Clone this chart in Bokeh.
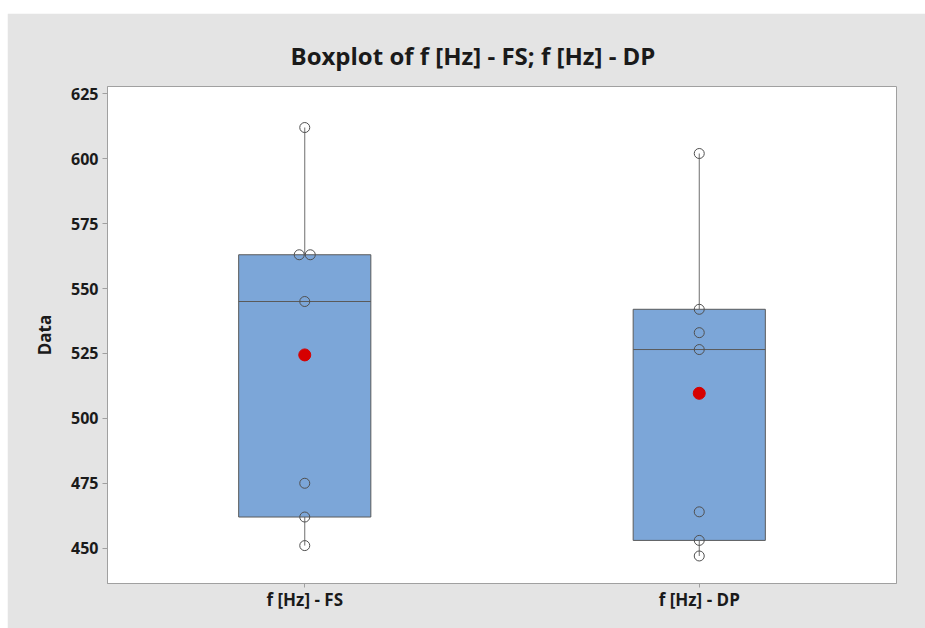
import math
from bokeh.plotting import figure
from bokeh.models import FixedTicker, Range1d, Spacer, ColumnDataSource
from bokeh.layouts import column, row
from bokeh.embed import file_html
from bokeh.resources import INLINE

# ---- data ----
categories = ["f [Hz] - FS", "f [Hz] - DP"]
fs_values = [451, 462, 475, 545, 563, 563, 612]
dp_values = [447, 453, 464, 526.5, 533, 542, 602]
y_ticks = [450, 475, 500, 525, 550, 575, 600, 625]
title_text = "Boxplot of f [Hz] - FS; f [Hz] - DP"
y_label = "Data"

series = [fs_values, dp_values]


def mtb_quantile(vals, p):
    s = sorted(vals)
    n = len(s)
    pos = p * (n + 1)
    lo = int(math.floor(pos))
    frac = pos - lo
    if lo < 1:
        return s[0]
    if lo >= n:
        return s[-1]
    return s[lo - 1] + frac * (s[lo] - s[lo - 1])


centers = [i + 0.5 for i in range(len(categories))]
box_half = 0.1675
dup_step = 0.014

box = dict(left=[], right=[], q1=[], q3=[], med=[], lo=[], hi=[], x=[], mean=[])
pts_x, pts_y = [], []
for c, vals in zip(centers, series):
    q1 = mtb_quantile(vals, 0.25)
    q2 = mtb_quantile(vals, 0.5)
    q3 = mtb_quantile(vals, 0.75)
    iqr = q3 - q1
    lo = min(v for v in vals if v >= q1 - 1.5 * iqr)
    hi = max(v for v in vals if v <= q3 + 1.5 * iqr)
    box["left"].append(c - box_half)
    box["right"].append(c + box_half)
    box["q1"].append(q1)
    box["q3"].append(q3)
    box["med"].append(q2)
    box["lo"].append(lo)
    box["hi"].append(hi)
    box["x"].append(c)
    box["mean"].append(sum(vals) / len(vals))
    # individual points, duplicates side by side
    counts = {}
    for v in vals:
        counts[v] = counts.get(v, 0) + 1
    seen = {}
    for v in vals:
        k = counts[v]
        j = seen.get(v, 0)
        seen[v] = j + 1
        off = (j - (k - 1) / 2) * 2 * dup_step if k > 1 else 0
        pts_x.append(c + off)
        pts_y.append(v)

src = ColumnDataSource(box)

p = figure(
    width=918, height=615,
    x_range=Range1d(0, 2), y_range=Range1d(436.4, 627.8),
    output_backend="svg", toolbar_location=None,
    min_border_left=100, min_border_right=29, min_border_top=73, min_border_bottom=45,
    background_fill_color="white", border_fill_color="#E4E4E4",
    outline_line_color="#A0A0A0",
    title=title_text,
)
p.title.text_font = "Open Sans"
p.title.text_font_style = "bold"
p.title.text_font_size = "24px"
p.title.text_color = "#1A1A1A"
p.title.align = "left"
p.title.offset = 183
p.title.standoff = 29

p.xgrid.visible = False
p.ygrid.visible = False

# whiskers
p.segment(x0="x", x1="x", y0="q3", y1="hi", source=src, line_color="#6E6E6E", line_width=1)
p.segment(x0="x", x1="x", y0="lo", y1="q1", source=src, line_color="#6E6E6E", line_width=1)
# boxes
p.quad(left="left", right="right", bottom="q1", top="q3", source=src,
       fill_color="#7CA6D8", line_color="#5A5A5A", line_width=1)
# medians
p.segment(x0="left", x1="right", y0="med", y1="med", source=src, line_color="#5A5A5A", line_width=1)
# individual points
p.scatter(pts_x, pts_y, marker="circle", size=10, fill_alpha=0,
          line_color="#505050", line_width=1)
# means
p.scatter(x="x", y="mean", source=src, marker="circle", size=12,
          fill_color="#D60000", line_color="#D60000")

# axes
p.xaxis.ticker = FixedTicker(ticks=centers)
p.xaxis.major_label_overrides = {c: name for c, name in zip(centers, categories)}
p.yaxis.ticker = FixedTicker(ticks=y_ticks)
p.yaxis.axis_label = y_label
for ax in (p.xaxis[0], p.yaxis[0]):
    ax.axis_line_color = "#A0A0A0"
    ax.major_tick_line_color = "#A0A0A0"
    ax.minor_tick_line_color = None
    ax.major_tick_in = 0
    ax.major_tick_out = 5
    ax.major_label_text_font = "Open Sans"
    ax.major_label_text_font_style = "bold"
    ax.major_label_text_color = "#1A1A1A"
    ax.axis_label_text_font = "Open Sans"
    ax.axis_label_text_font_style = "bold"
    ax.axis_label_text_font_size = "17px"
    ax.axis_label_text_color = "#1A1A1A"
p.xaxis.major_label_text_font_size = "17px"
p.yaxis.major_label_text_font_size = "16px"
p.yaxis.major_label_standoff = 4
p.xaxis.major_tick_out = 4
p.xaxis.major_label_standoff = 0
p.yaxis.axis_label_standoff = 12

layout = row(Spacer(width=7), column(Spacer(height=13), p, spacing=0), spacing=0)
open("out.html", "w").write(file_html(layout, INLINE))
